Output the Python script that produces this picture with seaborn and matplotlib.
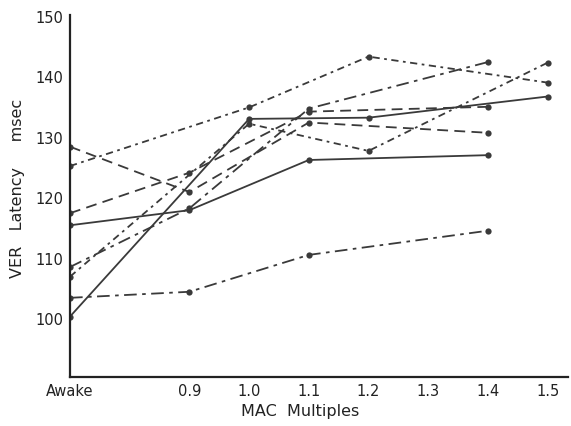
import matplotlib
matplotlib.use("Agg")
import matplotlib.pyplot as plt
import pandas as pd
import seaborn as sns

# MAC multiples on the x axis ("Awake" sits at 0.7)
x_awake = 0.7
tick_pos = [0.7, 0.9, 1.0, 1.1, 1.2, 1.3, 1.4, 1.5]
tick_labels = ["Awake", "0.9", "1.0", "1.1", "1.2", "1.3", "1.4", "1.5"]

# one entry per subject: x positions and VER latency (msec)
s1_x = [0.7, 0.9, 1.1, 1.4]
s1_y = [128.5, 121.0, 132.5, 130.8]
s2_x = [0.7, 1.0, 1.2, 1.5]
s2_y = [125.3, 135.0, 143.4, 139.1]
s3_x = [0.7, 0.9, 1.1, 1.4]
s3_y = [117.5, 124.2, 134.3, 135.1]
s4_x = [0.7, 0.9, 1.1, 1.4]
s4_y = [115.5, 118.0, 126.3, 127.1]
s5_x = [0.7, 0.9, 1.1, 1.4]
s5_y = [108.6, 118.3, 134.8, 142.5]
s6_x = [0.7, 1.0, 1.2, 1.5]
s6_y = [107.0, 132.3, 127.8, 142.4]
s7_x = [0.7, 0.9, 1.1, 1.4]
s7_y = [103.5, 104.5, 110.6, 114.6]
s8_x = [0.7, 1.0, 1.2, 1.5]
s8_y = [100.4, 133.1, 133.3, 136.8]

dash = (0, (6, 3.5))
dashdot = (0, (7, 3, 2, 3))
finedot = (0, (4, 2.5, 1.5, 2.5))
series = [
    (s1_x, s1_y, dash),
    (s2_x, s2_y, finedot),
    (s3_x, s3_y, dash),
    (s4_x, s4_y, "-"),
    (s5_x, s5_y, dashdot),
    (s6_x, s6_y, finedot),
    (s7_x, s7_y, dashdot),
    (s8_x, s8_y, "-"),
]

sns.set_theme(style="white")
plt.rcParams["font.family"] = ["DejaVu Sans"]

fig = plt.figure(figsize=(5.71, 4.26), dpi=100)
ax = fig.add_axes([0.1226, 0.115, 0.872, 0.85])

for xs, ys, ls in series:
    df = pd.DataFrame({"mac": xs, "latency": ys})
    sns.lineplot(data=df, x="mac", y="latency", ax=ax, color="#3a3a3a",
                 linestyle=ls, linewidth=1.3, marker="o", markersize=4.5,
                 markeredgewidth=0, estimator=None)

ax.set_xlim(0.7, 1.534)
ax.set_ylim(90.4, 150.3)
ax.set_xticks(tick_pos)
ax.set_xticklabels(tick_labels)
ax.set_yticks([100, 110, 120, 130, 140, 150])
ax.tick_params(axis="y", direction="out", length=4, width=1.2, color="#222222",
               labelsize=10.5, labelcolor="#222222", pad=1)
ax.tick_params(axis="x", direction="in", length=3, width=1, color="#222222",
               labelsize=10.5, labelcolor="#222222", pad=5)
for side in ["top", "right"]:
    ax.spines[side].set_visible(False)
for side in ["left", "bottom"]:
    ax.spines[side].set_color("#222222")
    ax.spines[side].set_linewidth(1.6)

ax.set_xlabel("MAC  Multiples", fontsize=11.5, color="#222222")
ax.set_ylabel("VER   Latency     msec", fontsize=11.5, color="#222222")
ax.xaxis.set_label_coords(0.462, -0.075)
ax.yaxis.set_label_coords(-0.09, 0.52)

fig.savefig("out.png", dpi=100)
